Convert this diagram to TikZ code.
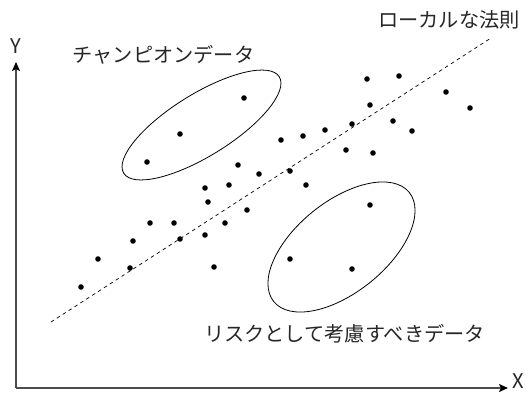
\documentclass[tikz,border=0pt]{standalone}
\usepackage{fontspec}
\setmainfont{Noto Sans CJK JP}
\usetikzlibrary{shapes.geometric,arrows.meta}
\begin{document}
\begin{tikzpicture}[x=1pt,y=-1pt,
  dot/.style={circle,fill=black,inner sep=0pt,minimum size=5.6pt},
  axis/.style={draw=black!70,line width=1.4pt,-{Stealth[length=9pt,width=8pt,inset=2pt,black]}},
  group/.style={ellipse,draw=black,line width=0.8pt,inner sep=0pt},
  law/.style={dashed,dash pattern=on 3.5pt off 3.5pt,line width=0.7pt},
  lbl/.style={font=\fontsize{20.2}{20}\selectfont,text=black!85,inner sep=0pt}]
\useasboundingbox (0,0) rectangle (526,396);
% axes
\coordinate (O) at (16,388);
\coordinate (ytip) at (16,62);
\coordinate (xtip) at (508,388);
\draw[axis] (O) -- (ytip);
\draw[axis] (O) -- (xtip);
\node[lbl] (ylab) at (16,46) {Y};
\node[lbl] (xlab) at (518,381) {X};
% local law
\coordinate (l1) at (51,322);
\coordinate (l2) at (491,38);
\draw[law] (l1) -- (l2);
\node[lbl] (lawlab) at (449,20) {ローカルな法則};
% groups
\node[group,minimum width=183pt,minimum height=62pt,rotate=31.8] (champ) at (201.5,125) {};
\node[group,minimum width=174pt,minimum height=91pt,rotate=38.8] (risk) at (341.5,247) {};
\node[lbl] (champlab) at (163.5,55) {チャンピオンデータ};
\node[lbl] (risklab) at (344.5,334) {リスクとして考慮すべきデータ};
% dots
\foreach \x/\y [count=\i] in {244/98,180/134,147/162,370/205,290/259,352/269,
  238/165,259/174,205/188,229/185,281/140,303/136,290/171,306/185,208/202,247/210,
  150/223,174/223,225/223,133/241,180/239,205/235,214/267,130/268,98/259,81/287,
  367/79,399/76,446/92,470/108,370/105,393/121,412/131,352/124,325/130,346/150,373/153}
  \node[dot] (d\i) at (\x,\y) {};
\end{tikzpicture}
\end{document}
